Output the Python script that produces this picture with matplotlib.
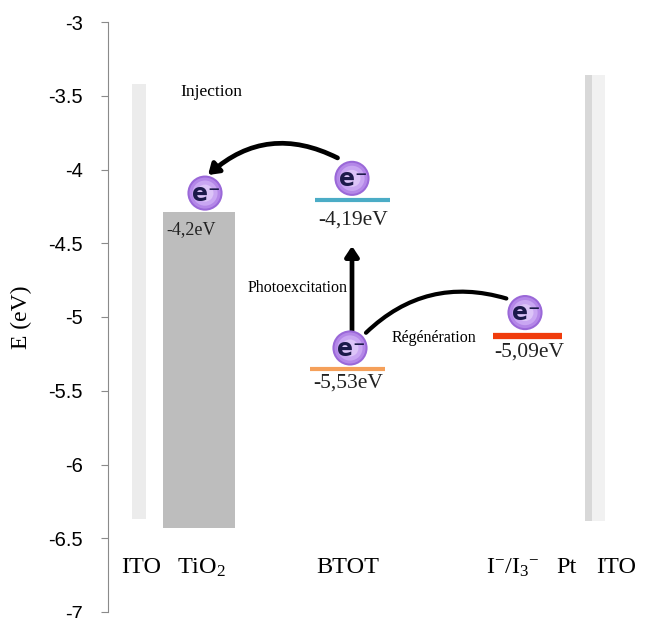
import numpy as np
import matplotlib
matplotlib.use("Agg")
import matplotlib.pyplot as plt
from matplotlib.patches import FancyArrowPatch, Rectangle

plt.rcParams['mathtext.fontset'] = 'custom'
plt.rcParams['mathtext.rm'] = 'Liberation Serif'
plt.rcParams['mathtext.it'] = 'Liberation Serif:italic'
plt.rcParams['mathtext.bf'] = 'Liberation Serif:bold'

# ---- data (energies in eV, x in arbitrary layout units) ----
col_names = ["ITO", "TiO$_2$", "BTOT", "I$^{-}$/I$_3$$^{-}$", "Pt", "ITO"]
col_x = [33, 93, 240, 405, 458, 508]

yticks = [-3, -3.5, -4, -4.5, -5, -5.5, -6, -6.5, -7]
ytick_labels = ["-3", "-3.5", "-4", "-4.5", "-5", "-5.5", "-6", "-6.5", "-7"]

# electrodes / bands: (x0, x1, top, bottom, colour)
bands = [
    (24, 38, -3.42, -6.37, "#ececec"),
    (55, 127, -4.29, -6.43, "#bdbdbd"),
    (477, 484, -3.36, -6.38, "#d8d8d8"),
    (484, 497, -3.36, -6.38, "#f1f1f1"),
]

# molecular levels: (x0, x1, E, colour, width)
levels = [
    (207, 282, -4.21, "#4bacc6", 3.0),
    (202, 277, -5.35, "#f5a05a", 3.0),
    (385, 454, -5.13, "#f03c0c", 4.5),
]
level_labels = ["-4,2eV", "-4,19eV", "-5,53eV", "-5,09eV"]
level_label_pos = [(58, -4.41, "left", 13), (245, -4.34, "center", 15.5),
                   (240, -5.45, "center", 15.5), (421, -5.24, "center", 15.5)]

# electrons
elec_x = [97, 244, 242, 417]
elec_E = [-4.16, -4.06, -5.21, -4.97]

fig = plt.figure(figsize=(6.47, 6.18), dpi=100)
ax = fig.add_axes([108 / 647, 6 / 618, 539 / 647, 590 / 618])
ax.set_xlim(0, 539)
ax.set_ylim(-7, -3)

for x0, x1, top, bot, c in bands:
    ax.add_patch(Rectangle((x0, bot), x1 - x0, top - bot, facecolor=c,
                           edgecolor="none", zorder=1))

for x0, x1, e, c, w in levels:
    ax.plot([x0, x1], [e, e], color=c, lw=w, solid_capstyle="butt", zorder=2)

for txt, (x, y, ha, fs) in zip(level_labels, level_label_pos):
    ax.text(x, y, txt, ha=ha, va="center", fontsize=fs,
            family="Liberation Serif", color="#222222", zorder=5)

# arrows
arr_kw = dict(color="black", zorder=3)
ax.add_patch(FancyArrowPatch((232, -3.93), (98, -4.05),
                             connectionstyle="arc3,rad=0.35",
                             arrowstyle="-|>,head_length=6,head_width=4",
                             lw=3.4, **arr_kw))
ax.add_patch(FancyArrowPatch((244, -5.12), (244, -4.50),
                             arrowstyle="-|>,head_length=6,head_width=4",
                             lw=3.4, **arr_kw))
ax.add_patch(FancyArrowPatch((256, -5.12), (401, -4.88),
                             connectionstyle="arc3,rad=-0.3",
                             arrowstyle="-", lw=3.0, **arr_kw))

# electrons drawn as shaded spheres
for s, c in [(640, "#9a68d8"), (500, "#b487e8"), (330, "#c9a6f2"), (150, "#dcc4f8")]:
    ax.scatter(elec_x, elec_E, s=s, color=c, edgecolors="none", zorder=6)
for x, e in zip(elec_x, elec_E):
    ax.text(x + 1, e - 0.005, "e\u207b", ha="center", va="center", fontsize=17,
            fontweight="bold", family="DejaVu Sans", color="#1c1a4a", zorder=7)

# process labels
ax.text(72, -3.475, "Injection", fontsize=12.5, family="Liberation Serif", va="center")
ax.text(140, -4.80, "Photoexcitation", fontsize=11.5, family="Liberation Serif", va="center")
ax.text(284, -5.14, "Régénération", fontsize=11.5, family="Liberation Serif", va="center")

# column names
for name, x in zip(col_names, col_x):
    ax.text(x, -6.70, name, ha="center", va="center", fontsize=17.5,
            family="Liberation Serif")

ax.set_yticks(yticks)
ax.set_yticklabels(ytick_labels, fontsize=14.5, family="Liberation Sans")
ax.set_xticks([])
for sp in ["top", "right", "bottom"]:
    ax.spines[sp].set_visible(False)
ax.spines["left"].set_color("#8a8a8a")
ax.tick_params(axis="y", length=5, color="#8a8a8a", pad=13)
ax.set_ylabel("E (eV)", fontsize=17, family="Liberation Serif", labelpad=12)

fig.savefig("out.png", dpi=100)
